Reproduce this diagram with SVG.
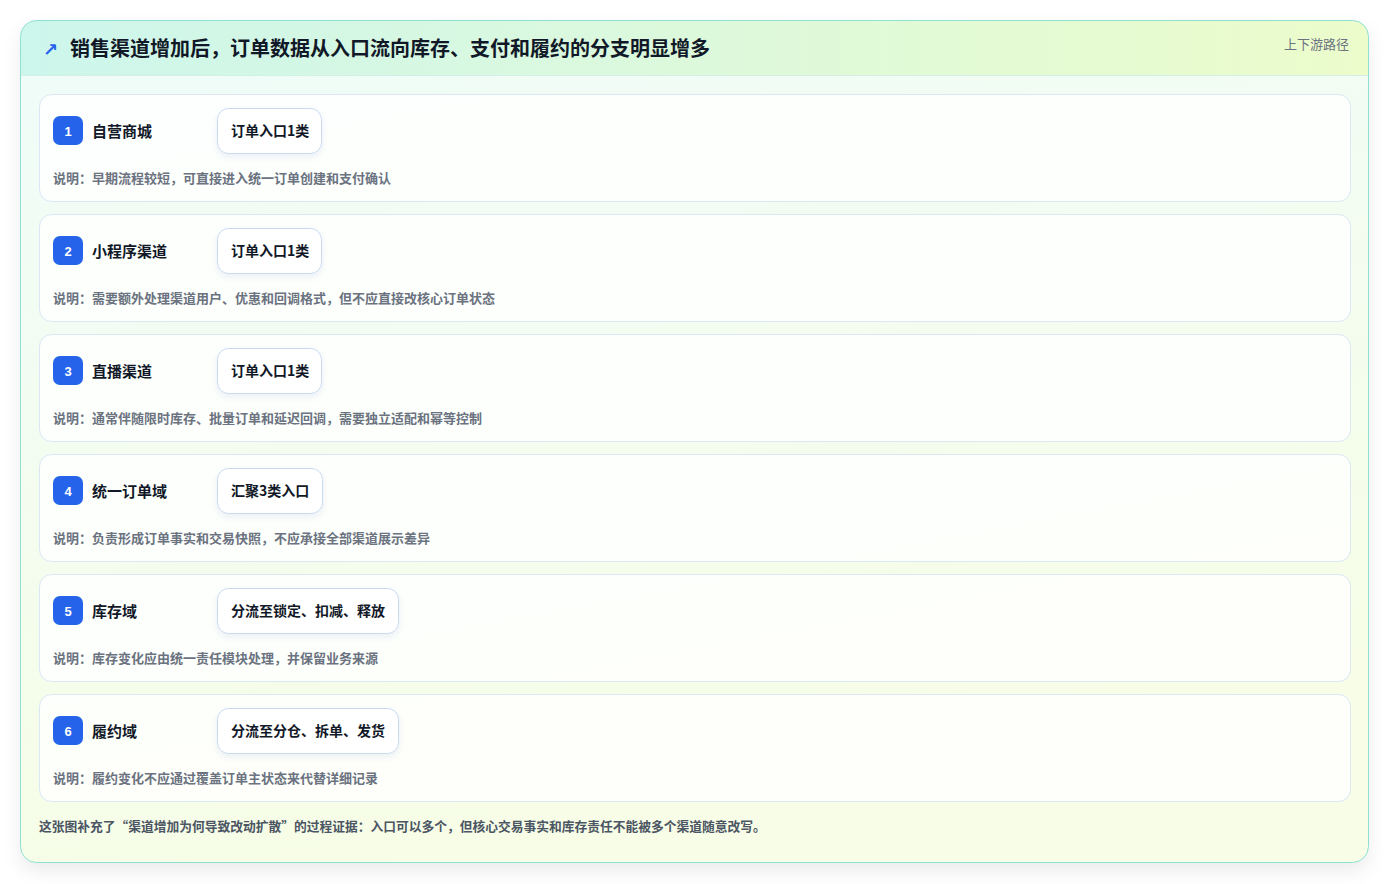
<svg xmlns="http://www.w3.org/2000/svg" width="1390" height="884" viewBox="0 0 1390 884">
<defs>
<linearGradient id="bg" x1="0" y1="0" x2="0.3" y2="1">
<stop offset="0" stop-color="#effcf9"/>
<stop offset="1" stop-color="#f7fde6"/>
</linearGradient>
<linearGradient id="hd" x1="0" y1="0" x2="1" y2="0">
<stop offset="0" stop-color="#cdf6ec"/>
<stop offset="1" stop-color="#ecfccb"/>
</linearGradient>
<filter id="sh" x="-5%" y="-5%" width="110%" height="115%">
<feDropShadow dx="0" dy="8" stdDeviation="9" flood-color="#0f172a" flood-opacity="0.08"/>
</filter>
<filter id="psh" x="-20%" y="-30%" width="140%" height="170%">
<feDropShadow dx="0" dy="3" stdDeviation="3" flood-color="#1e3a8a" flood-opacity="0.08"/>
</filter>
<clipPath id="cardclip"><rect x="20.5" y="20.5" width="1348" height="842" rx="16"/></clipPath>
</defs>
<style>
.row{fill:#ffffff;fill-opacity:0.82;stroke:#dbe7f5;stroke-width:1}
.badge{fill:#2563eb}
.num{font-family:"Liberation Sans","Noto Sans CJK SC",sans-serif;font-size:13px;font-weight:700;fill:#ffffff;text-anchor:middle}
.lbl{font-family:"Noto Sans CJK SC","Noto Sans",sans-serif;font-size:15px;font-weight:700;fill:#111827}
.pill{fill:#ffffff;stroke:#c9daf2;stroke-width:1}
.ptx{font-family:"Noto Sans CJK SC","Noto Sans",sans-serif;font-size:14px;font-weight:700;fill:#111827}
.desc{font-family:"Noto Sans CJK SC","Noto Sans",sans-serif;font-size:13px;font-weight:700;fill:#6b7280}
</style>
<rect x="0" y="0" width="1390" height="884" fill="#ffffff"/>
<g id="card">
<rect x="20.5" y="20.5" width="1348" height="842" rx="16" fill="url(#bg)" filter="url(#sh)"/>
<g clip-path="url(#cardclip)">
<rect x="20.5" y="20.5" width="1348" height="55" fill="url(#hd)"/>
<line x1="20.5" y1="75.5" x2="1368.5" y2="75.5" stroke="#d3efe6" stroke-width="1"/>
</g>
<rect x="20.5" y="20.5" width="1348" height="842" rx="16" fill="none" stroke="#8ee0d2" stroke-width="1"/>
<text x="43" y="56" font-family="DejaVu Sans,sans-serif" font-size="18" font-weight="700" fill="#2563eb">↗</text>
<text x="70" y="56" font-family="Noto Sans CJK SC,Noto Sans,sans-serif" font-size="20" font-weight="700" fill="#111827">销售渠道增加后，订单数据从入口流向库存、支付和履约的分支明显增多</text>
<text x="1349" y="49" text-anchor="end" font-family="Noto Sans CJK SC,Noto Sans,sans-serif" font-size="13" fill="#6b7280">上下游路径</text>
</g>
<g id="connectors"></g>
<g id="node1">
<rect class="row" x="39.5" y="94.5" width="1311" height="107" rx="12"/>
<rect class="badge" x="53" y="116" width="30" height="29" rx="7"/>
<text class="num" x="68" y="135.5">1</text>
<text class="lbl" x="92" y="136.5">自营商城</text>
<rect class="pill" x="217.5" y="108.5" width="104" height="45" rx="11" filter="url(#psh)"/>
<text class="ptx" x="231" y="135.5">订单入口1类</text>
<text class="desc" x="53" y="182.5">说明：早期流程较短，可直接进入统一订单创建和支付确认</text>
</g>
<g id="node2">
<rect class="row" x="39.5" y="214.5" width="1311" height="107" rx="12"/>
<rect class="badge" x="53" y="236" width="30" height="29" rx="7"/>
<text class="num" x="68" y="255.5">2</text>
<text class="lbl" x="92" y="256.5">小程序渠道</text>
<rect class="pill" x="217.5" y="228.5" width="104" height="45" rx="11" filter="url(#psh)"/>
<text class="ptx" x="231" y="255.5">订单入口1类</text>
<text class="desc" x="53" y="302.5">说明：需要额外处理渠道用户、优惠和回调格式，但不应直接改核心订单状态</text>
</g>
<g id="node3">
<rect class="row" x="39.5" y="334.5" width="1311" height="107" rx="12"/>
<rect class="badge" x="53" y="356" width="30" height="29" rx="7"/>
<text class="num" x="68" y="375.5">3</text>
<text class="lbl" x="92" y="376.5">直播渠道</text>
<rect class="pill" x="217.5" y="348.5" width="104" height="45" rx="11" filter="url(#psh)"/>
<text class="ptx" x="231" y="375.5">订单入口1类</text>
<text class="desc" x="53" y="422.5">说明：通常伴随限时库存、批量订单和延迟回调，需要独立适配和幂等控制</text>
</g>
<g id="node4">
<rect class="row" x="39.5" y="454.5" width="1311" height="107" rx="12"/>
<rect class="badge" x="53" y="476" width="30" height="29" rx="7"/>
<text class="num" x="68" y="495.5">4</text>
<text class="lbl" x="92" y="496.5">统一订单域</text>
<rect class="pill" x="217.5" y="468.5" width="105" height="45" rx="11" filter="url(#psh)"/>
<text class="ptx" x="231" y="495.5">汇聚3类入口</text>
<text class="desc" x="53" y="542.5">说明：负责形成订单事实和交易快照，不应承接全部渠道展示差异</text>
</g>
<g id="node5">
<rect class="row" x="39.5" y="574.5" width="1311" height="107" rx="12"/>
<rect class="badge" x="53" y="596" width="30" height="29" rx="7"/>
<text class="num" x="68" y="615.5">5</text>
<text class="lbl" x="92" y="616.5">库存域</text>
<rect class="pill" x="217.5" y="588.5" width="181" height="45" rx="11" filter="url(#psh)"/>
<text class="ptx" x="231" y="615.5">分流至锁定、扣减、释放</text>
<text class="desc" x="53" y="662.5">说明：库存变化应由统一责任模块处理，并保留业务来源</text>
</g>
<g id="node6">
<rect class="row" x="39.5" y="694.5" width="1311" height="107" rx="12"/>
<rect class="badge" x="53" y="716" width="30" height="29" rx="7"/>
<text class="num" x="68" y="735.5">6</text>
<text class="lbl" x="92" y="736.5">履约域</text>
<rect class="pill" x="217.5" y="708.5" width="181" height="45" rx="11" filter="url(#psh)"/>
<text class="ptx" x="231" y="735.5">分流至分仓、拆单、发货</text>
<text class="desc" x="53" y="782.5">说明：履约变化不应通过覆盖订单主状态来代替详细记录</text>
</g>
<text x="39" y="830.5" font-family="Noto Sans CJK SC,Noto Sans,sans-serif" font-size="12.75" font-weight="700" fill="#4b5563">这张图补充了“渠道增加为何导致改动扩散”的过程证据：入口可以多个，但核心交易事实和库存责任不能被多个渠道随意改写。</text>
</svg>
